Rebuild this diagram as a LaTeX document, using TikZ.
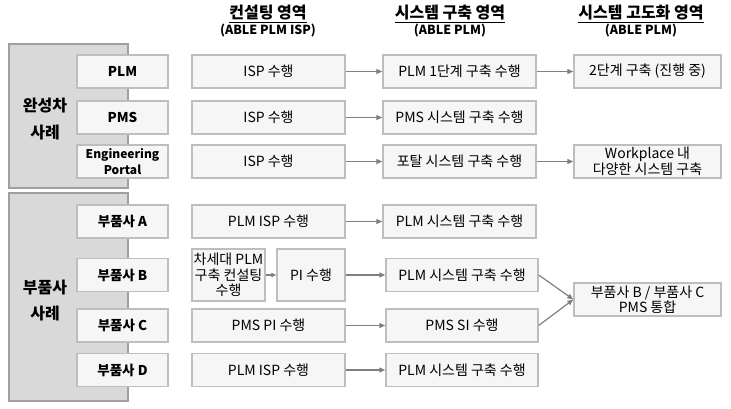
\documentclass[tikz,border=0pt]{standalone}
\usepackage{fontspec}
\setmainfont{Noto Sans CJK KR}
\usepackage{tikz}
\usetikzlibrary{arrows.meta}
\definecolor{boxline}{RGB}{190,190,190}
\definecolor{boxfill}{RGB}{246,246,246}
\definecolor{grpfill}{RGB}{217,217,217}
\definecolor{grpline}{RGB}{160,160,160}
\definecolor{arrowgray}{RGB}{128,128,128}

\begin{document}
\begin{tikzpicture}[x=1pt, y=-1pt,
  grp/.style={draw=grpline, fill=grpfill, line width=1.3pt, inner sep=0pt},
  grplabel/.style={font=\fontsize{16}{20}\selectfont\bfseries, align=center},
  sub/.style={draw=boxline, fill=boxfill, line width=1.4pt, minimum width=91pt,
    minimum height=33pt, inner sep=1pt, align=center,
    font=\fontsize{13.5}{16}\selectfont\bfseries},
  cell/.style={draw=boxline, fill=boxfill, line width=1.4pt, minimum height=33pt,
    inner sep=0pt, align=center, font=\fontsize{14}{15.5}\selectfont},
  head/.style={align=center, font=\fontsize{16}{19}\selectfont\bfseries},
  sub head/.style={font=\fontsize{12.5}{15}\selectfont\bfseries},
  flow/.style={draw=arrowgray, line width=1.2pt, -{Triangle[length=6pt,width=5pt]}}]

  \useasboundingbox (0,0) rectangle (731,408);

  %% headers
  \node[head] (h1) at (268,14) {\underline{컨설팅 영역}};
  \node[sub head] (s1) at (268,31) {(ABLE PLM ISP)};
  \node[head] (h2) at (450,14) {\underline{시스템 구축 영역}};
  \node[sub head] (s2) at (450,31) {(ABLE PLM)};
  \node[head] (h3) at (641,14) {\underline{시스템 고도화 영역}};
  \node[sub head] (s3) at (641,31) {(ABLE PLM)};

  %% groups
  \node[grp, minimum width=119pt, minimum height=144pt] (g1) at (68.5,116) {};
  \node[grplabel] (g1l) at (45,119) {완성차\\[7pt]사례};
  \node[grp, minimum width=119pt, minimum height=208pt] (g2) at (68.5,297) {};
  \node[grplabel] (g2l) at (45,301) {부품사\\[6pt]사례};

  %% left column
  \node[sub] (plm) at (122.5,71.5) {PLM};
  \node[sub] (pms) at (122.5,117.5) {PMS};
  \node[sub, font=\fontsize{12}{16}\selectfont\bfseries] (ep) at (122.5,161.5) {Engineering\\Portal};
  \node[sub] (pa) at (122.5,221.5) {부품사 A};
  \node[sub] (pb) at (122.5,275) {부품사 B};
  \node[sub] (pc) at (122.5,325.5) {부품사 C};
  \node[sub] (pd) at (122.5,370) {부품사 D};

  %% consulting
  \node[cell, minimum width=153pt] (c1) at (268.5,71.5) {ISP 수행};
  \node[cell, minimum width=153pt] (c2) at (268.5,117.5) {ISP 수행};
  \node[cell, minimum width=153pt] (c3) at (268.5,161.5) {ISP 수행};
  \node[cell, minimum width=153pt] (ca) at (268.5,221.5) {PLM ISP 수행};
  \node[cell, minimum width=73pt, minimum height=52pt] (cb) at (228.5,275) {차세대 PLM\\구축 컨설팅\\수행};
  \node[cell, minimum width=68pt, minimum height=52pt] (cbb) at (311,275) {PI 수행};
  \node[cell, minimum width=153pt] (cc) at (268.5,325.5) {PMS PI 수행};
  \node[cell, minimum width=153pt] (cd) at (268.5,370) {PLM ISP 수행};

  %% system build
  \node[cell, minimum width=153pt] (b1) at (459.5,71.5) {PLM 1단계 구축 수행};
  \node[cell, minimum width=153pt] (b2) at (459.5,117.5) {PMS 시스템 구축 수행};
  \node[cell, minimum width=153pt] (b3) at (459.5,161.5) {포탈 시스템 구축 수행};
  \node[cell, minimum width=153pt] (ba) at (459.5,221.5) {PLM 시스템 구축 수행};
  \node[cell, minimum width=152pt] (bb) at (462,275) {PLM 시스템 구축 수행};
  \node[cell, minimum width=152pt] (bc) at (462,325.5) {PMS SI 수행};
  \node[cell, minimum width=152pt] (bd) at (462,370) {PLM 시스템 구축 수행};

  %% upgrade
  \node[cell, minimum width=147pt] (u1) at (647.5,71.5) {2단계 구축 (진행 중)};
  \node[cell, minimum width=147pt] (u3) at (647.5,161.5) {Workplace 내\\다양한 시스템 구축};
  \node[cell, minimum width=147pt] (ubc) at (647.5,299.5) {부품사 B / 부품사 C\\PMS 통합};

  %% arrows
  \draw[flow] (c1) -- (b1);
  \draw[flow] (c2) -- (b2);
  \draw[flow] (c3) -- (b3);
  \draw[flow] (ca) -- (ba);
  \draw[flow, -{Triangle[length=5pt,width=4.5pt]}] (cb) -- (cbb);
  \draw[flow] (cbb) -- (bb);
  \draw[flow] (cc) -- (bc);
  \draw[flow] (cd) -- (bd);
  \draw[flow] (b1) -- (u1);
  \draw[flow] (b3) -- (u3);
  \draw[flow] (bb.east) -- (ubc.west);
  \draw[flow] (bc.east) -- (ubc.west);

\end{tikzpicture}
\end{document}
